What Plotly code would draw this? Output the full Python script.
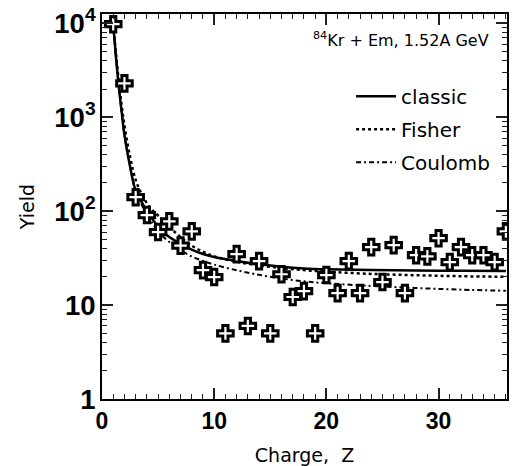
import plotly.graph_objects as go

# Data points (charge Z, yield)
Z_data = list(range(1, 37))
Y_data = [9800, 2300, 141, 91, 60, 78, 43, 61, 23.6, 19.9, 5.0, 34.9,
          6.0, 29.4, 5.0, 21.3, 12.2, 14.1, 5.0, 20.9, 13.4, 29.4, 13.4, 41.4,
          17.6, 43.5, 13.4, 34, 33, 51.6, 28.7, 41.4, 34, 34, 28.7, 61]

# Model curves
Z_curve = [1, 1.25, 1.5, 1.75, 2, 2.5, 3, 3.5, 4, 4.5, 5, 6, 7, 8, 9, 10,
           12, 14, 16, 18, 20, 24, 28, 32, 36]
Y_classic = [9800, 4300, 2100, 1150, 650, 300, 165, 128, 100, 82, 69, 53, 45, 39, 35, 32.5,
             29.5, 27.2, 25.6, 24.6, 24.1, 23.6, 23.3, 23.2, 23.1]
Y_fisher = [9800, 4700, 2400, 1350, 820, 380, 215, 155, 122, 102, 90, 68, 53, 43, 37, 33,
            29, 26.5, 24.8, 23.6, 22.7, 21.5, 20.8, 20.3, 20.0]
Y_coulomb = [9800, 4300, 2100, 1150, 650, 300, 165, 120, 92, 74, 61, 47, 38.5, 33, 29.5, 27,
             23.5, 21, 19.2, 17.9, 17.1, 16.0, 15.2, 14.6, 14.2]

txt_font = "DejaVu Sans, sans-serif"
num_font = "Liberation Sans, Arial, sans-serif"
ink = "rgb(0,0,0)"
tick_ink = "#202020"

fig = go.Figure()
fig.add_trace(go.Scatter(x=Z_curve, y=Y_classic, mode="lines", name="classic", legendgroup="a",
                         line=dict(color=ink, width=2.5, shape="spline")))
fig.add_trace(go.Scatter(x=Z_curve, y=Y_fisher, mode="lines", name="Fisher", legendgroup="b",
                         line=dict(color=ink, width=2.5, dash="dot", shape="spline")))
fig.add_trace(go.Scatter(x=Z_curve, y=Y_coulomb, mode="lines", name="Coulomb", legendgroup="c",
                         line=dict(color=ink, width=2, dash="5px,3px,2px,3px", shape="spline")))
fig.add_trace(go.Scatter(x=Z_data, y=Y_data, mode="markers", showlegend=False,
                         marker=dict(symbol="cross", size=13, color="white",
                                     line=dict(color=ink, width=3))))

fig.update_layout(
    template="none",
    width=517, height=466,
    margin=dict(l=102, r=10, t=14, b=67),
    legend=dict(x=0.615, y=0.837, xanchor="left", yanchor="top",
                bgcolor="rgba(0,0,0,0)", font=dict(family=txt_font, size=20, color=ink),
                itemwidth=40, tracegroupgap=4),
    annotations=[dict(x=0.96, y=0.935, xref="paper", yref="paper", xanchor="right", yanchor="middle",
                      text="<sup>84</sup>Kr + Em, 1.52A GeV", showarrow=False,
                      font=dict(family=txt_font, size=16, color=ink))],
)

fig.update_xaxes(
    range=[0, 36.1], tickmode="linear", tick0=0, dtick=10,
    ticks="inside", ticklen=11, tickwidth=2, tickcolor=tick_ink,
    showline=True, linecolor=ink, linewidth=2, mirror="ticks",
    showgrid=False, zeroline=False, automargin=False,
    tickfont=dict(family=num_font, size=23, color=ink, weight="bold"),
    minor=dict(ticks="inside", ticklen=5, dtick=1, tick0=0, tickcolor=tick_ink, tickwidth=1.2,
               showgrid=False),
    title=dict(text="Charge,  Z", font=dict(family=txt_font, size=19, color=ink), standoff=16),
)
fig.update_yaxes(
    type="log", range=[0, 4.1], tickmode="linear", tick0=0, dtick=1, exponentformat="power",
    ticks="inside", ticklen=11, tickwidth=2, tickcolor=tick_ink,
    showline=True, linecolor=ink, linewidth=2, mirror="ticks",
    showgrid=False, zeroline=False, automargin=False,
    tickfont=dict(family=num_font, size=22, color=ink, weight="bold"),
    minor=dict(ticks="inside", ticklen=5, tickcolor=tick_ink, tickwidth=1.2, showgrid=False),
    title=dict(text="Yield", font=dict(family=txt_font, size=19, color=ink), standoff=15),
)

fig.write_html("out.html")
